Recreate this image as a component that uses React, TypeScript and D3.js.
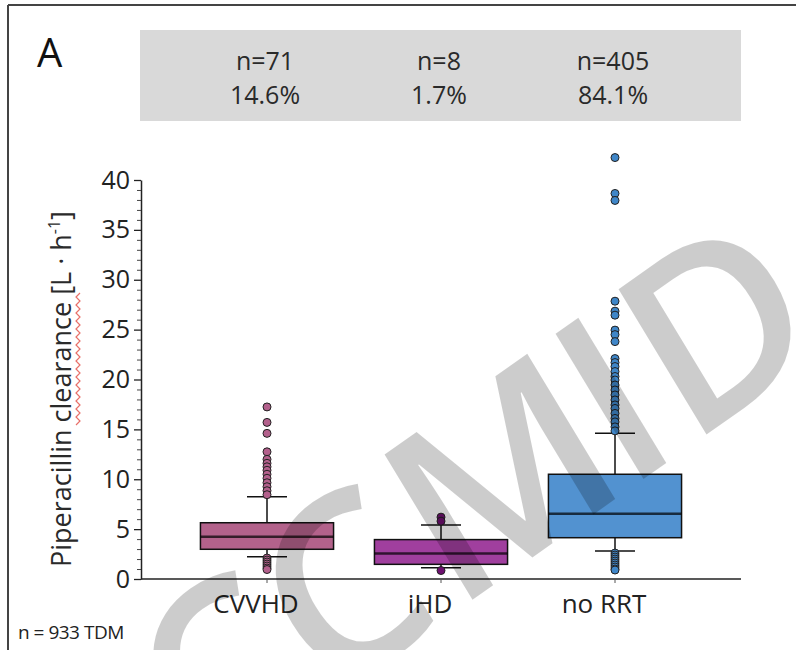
import React, { useEffect, useRef } from "react";
import * as d3 from "d3";

// groups and the header panel
const categories = ["CVVHD", "iHD", "no RRT"];
const counts = ["n=71", "n=8", "n=405"];
const shares = ["14.6%", "1.7%", "84.1%"];

// box statistics (L/h)
const q1 = [2.98, 1.47, 4.14];
const medians = [4.24, 2.55, 6.55];
const q3 = [5.64, 3.95, 10.5];
const whiskLow = [2.23, 1.13, 2.8];
const whiskHigh = [8.25, 5.41, 14.6];

const outliersCVVHD = [
	17.25, 15.7, 14.6, 12.75, 12.0, 11.6, 11.25, 10.9, 10.5, 10.1, 9.65, 9.25,
	8.85, 8.45, 2.1, 1.9, 1.7, 1.5, 1.3, 1.1, 0.95,
];
const outliersIHD = [6.2, 5.8, 0.85];
const outliersNoRRT = [
	42.25, 38.65, 37.95, 27.85, 26.85, 26.45, 24.95, 24.5, 23.8, 22.1, 21.7,
	21.3, 20.8, 20.3, 19.95, 19.45, 18.95, 18.45, 17.95, 17.45, 17.1, 16.6,
	16.1, 15.75, 15.25, 14.85, 2.6, 2.4, 2.2, 2.0, 1.8, 1.6, 1.4, 1.2, 1.0, 0.9,
];
const outliers = [outliersCVVHD, outliersIHD, outliersNoRRT];

const yMajorTicks = [0, 5, 10, 15, 20, 25, 30, 35, 40];

const boxColors = ["#b3628b", "#a03f9e", "#5292d0"];
const dotColors = ["#b3608c", "#6e1070", "#3f86c8"];

// watermark letters and their offsets along the slanted baseline
const markLetters = ["C", "C", "M", "I", "D"];
const markOffsets = [-550, -400, -207, -71, 57];

const FONT = "'Open Sans', 'DejaVu Sans', sans-serif";

export default function App() {
	const ref = useRef<SVGSVGElement>(null);

	useEffect(() => {
		const W = 796;
		const H = 650;
		const left = 141;
		const right = 741;
		const top = 180;
		const bottom = 579;

		const svg = d3.select(ref.current);
		svg.selectAll("*").remove();

		svg.append("rect").attr("width", W).attr("height", H).attr("fill", "#fff");

		// frame
		svg.append("line")
			.attr("x1", 8).attr("x2", 8).attr("y1", 5).attr("y2", H)
			.attr("stroke", "#444").attr("stroke-width", 2);
		svg.append("line")
			.attr("x1", 8).attr("x2", W).attr("y1", 5).attr("y2", 5)
			.attr("stroke", "#444").attr("stroke-width", 2);

		svg.append("text")
			.attr("x", 37).attr("y", 67)
			.attr("font-family", FONT).attr("font-size", 40).attr("fill", "#111")
			.text("A");

		const x = d3.scaleBand().domain(categories).range([180, 702]);
		const y = d3.scaleLinear().domain([0, 40]).range([bottom, top]);
		const boxW = x.bandwidth() * 0.765;
		const cx = (c) => (x(c) as number) + x.bandwidth() / 2;

		// header panel
		svg.append("rect")
			.attr("x", 140).attr("y", 30).attr("width", 601).attr("height", 91)
			.attr("fill", "#d9d9d9");
		const head = svg.append("g")
			.attr("font-family", FONT).attr("font-size", 25)
			.attr("fill", "#2a2a2a").attr("text-anchor", "middle");
		categories.forEach((c, i) => {
			head.append("text").attr("x", cx(c) - 2).attr("y", 70).text(counts[i]);
			head.append("text").attr("x", cx(c) - 2).attr("y", 104).text(shares[i]);
		});

		// y axis
		const yAxis = svg.append("g")
			.attr("transform", `translate(${left},0)`)
			.call(d3.axisLeft(y).tickValues(yMajorTicks).tickSize(7).tickSizeOuter(0));
		yAxis.select(".domain").attr("stroke", "#222").attr("stroke-width", 1.5);
		yAxis.selectAll(".tick line").attr("stroke", "#222").attr("stroke-width", 1.3);
		yAxis.selectAll(".tick text")
			.attr("font-family", FONT).attr("font-size", 25).attr("fill", "#222")
			.attr("x", -11);

		const minor = svg.append("g")
			.attr("transform", `translate(${left},0)`)
			.call(
				d3.axisLeft(y)
					.tickValues(d3.range(0, 41).filter((v) => v % 5 !== 0))
					.tickSize(4)
					.tickFormat(() => "")
			);
		minor.select(".domain").remove();
		minor.selectAll(".tick line").attr("stroke", "#444").attr("stroke-width", 1);

		// x axis
		svg.append("line")
			.attr("x1", left).attr("x2", right).attr("y1", bottom).attr("y2", bottom)
			.attr("stroke", "#222").attr("stroke-width", 1.5);
		const xAxis = svg.append("g")
			.attr("transform", `translate(0,${bottom})`)
			.call(d3.axisBottom(x).tickSize(4).tickSizeOuter(0));
		xAxis.select(".domain").remove();
		xAxis.selectAll(".tick line").attr("stroke", "#555");
		xAxis.selectAll(".tick text")
			.attr("font-family", FONT).attr("font-size", 26).attr("fill", "#222")
			.attr("x", -11).attr("y", 16);

		// y title
		const title = svg.append("text")
			.attr("transform", `translate(71,389) rotate(-90)`)
			.attr("text-anchor", "middle")
			.attr("font-family", FONT).attr("font-size", 27).attr("fill", "#2a2a2a");
		title.append("tspan").text("Piperacillin clearance [L · h");
		title.append("tspan").attr("font-size", 16).attr("dy", -11).text("-1");
		title.append("tspan").attr("dy", 11).text("]");

		// red spell-check squiggle under "clearance"
		const sq = d3.range(0, 34).map((i) => [i % 2 === 0 ? 76 : 80, 425 - i * 4]);
		svg.append("path")
			.attr("d", d3.line()(sq as [number, number][]))
			.attr("fill", "none").attr("stroke", "#e8706a").attr("stroke-width", 1.2);

		// boxes
		const g = svg.append("g");
		categories.forEach((c, i) => {
			const xc = cx(c);
			g.append("line")
				.attr("x1", xc).attr("x2", xc)
				.attr("y1", y(whiskHigh[i])).attr("y2", y(q3[i]))
				.attr("stroke", "#111").attr("stroke-width", 1.5);
			g.append("line")
				.attr("x1", xc).attr("x2", xc)
				.attr("y1", y(q1[i])).attr("y2", y(whiskLow[i]))
				.attr("stroke", "#111").attr("stroke-width", 1.5);
			[whiskHigh[i], whiskLow[i]].forEach((v) => {
				g.append("line")
					.attr("x1", xc - 20).attr("x2", xc + 20)
					.attr("y1", y(v)).attr("y2", y(v))
					.attr("stroke", "#111").attr("stroke-width", 1.5);
			});
			g.append("rect")
				.attr("x", xc - boxW / 2).attr("width", boxW)
				.attr("y", y(q3[i])).attr("height", y(q1[i]) - y(q3[i]))
				.attr("fill", boxColors[i]).attr("stroke", "#111").attr("stroke-width", 1.5);
			g.append("line")
				.attr("x1", xc - boxW / 2).attr("x2", xc + boxW / 2)
				.attr("y1", y(medians[i])).attr("y2", y(medians[i]))
				.attr("stroke", "#000").attr("stroke-opacity", 0.7).attr("stroke-width", 2.5);
			g.selectAll(null)
				.data(outliers[i])
				.join("circle")
				.attr("cx", xc)
				.attr("cy", (d) => y(d))
				.attr("r", 4)
				.attr("fill", dotColors[i])
				.attr("stroke", "#222")
				.attr("stroke-width", 1);
		});

		svg.append("text")
			.attr("x", 18).attr("y", 639)
			.attr("font-family", FONT).attr("font-size", 19).attr("fill", "#222")
			.attr("letter-spacing", -0.5)
			.text("n = 933 TDM");

		// watermark: slanted, slightly sheared letters drawn over the plot
		const mark = svg.append("g")
			.attr("transform", "matrix(0.817,-0.577,0.518,0.855,713,430)")
			.attr("font-family", FONT).attr("font-size", 238).attr("font-weight", 600)
			.attr("text-anchor", "middle")
			.attr("fill", "#000").attr("fill-opacity", 0.2);
		markLetters.forEach((ch, i) => {
			mark.append("text").attr("x", markOffsets[i]).attr("y", 0).text(ch);
		});
	}, []);

	return (
		<svg
			ref={ref}
			width={796}
			height={650}
			style={{ position: "absolute", left: 0, top: 0 }}
		/>
	);
}
